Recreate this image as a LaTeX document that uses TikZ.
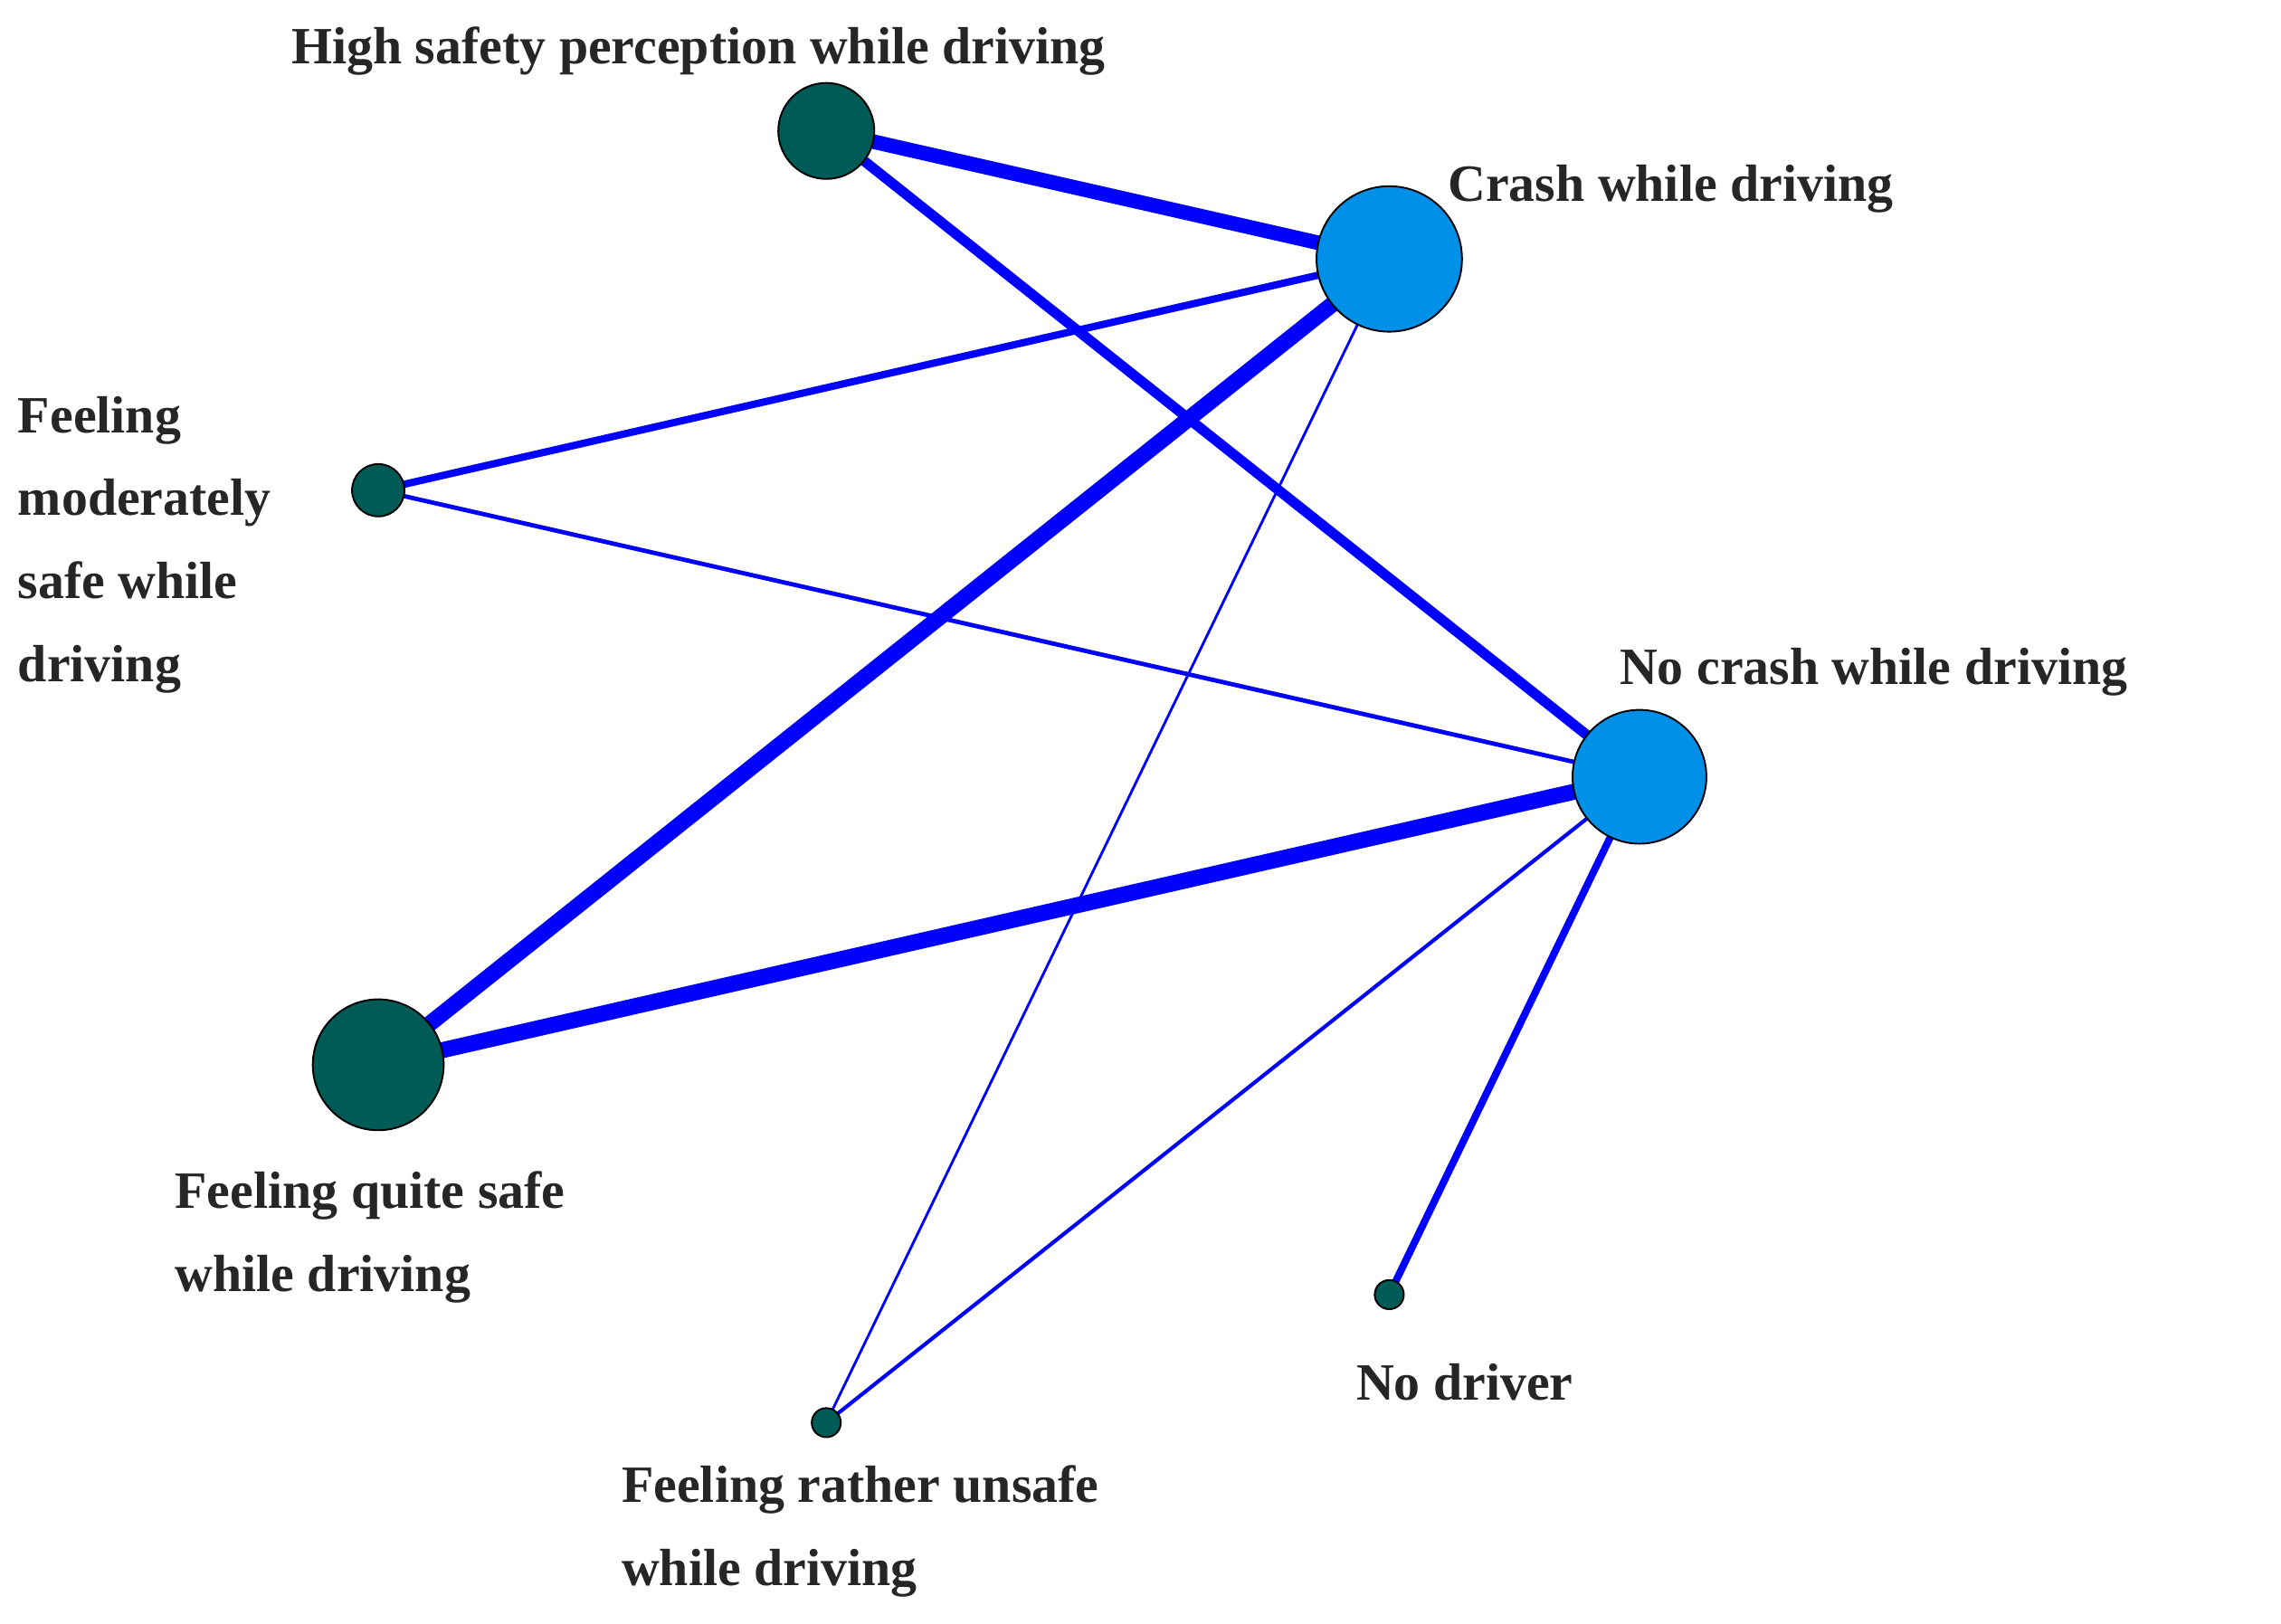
\documentclass[tikz,border=0pt]{standalone}
\usepackage{fontspec}
\setmainfont{Liberation Serif}
\usetikzlibrary{backgrounds}
\definecolor{teal}{HTML}{005A55}
\definecolor{lblue}{HTML}{0090E8}
\definecolor{edge}{HTML}{0000FF}
\begin{document}
\begin{tikzpicture}[x=0.5pt,y=-0.5pt,
  dk/.style={circle,draw=black,line width=0.6pt,fill=teal,inner sep=0pt,minimum size=#1},
  lb/.style={circle,draw=black,line width=0.6pt,fill=lblue,inner sep=0pt,minimum size=#1},
  lab/.style={anchor=west,align=left,font=\fontsize{18}{28.5}\selectfont\bfseries,inner sep=0pt,text=black!85},
  e/.style={draw=edge,line width=#1}]
\useasboundingbox (0,0) rectangle (1568,1116);
\node[dk=33pt] (hs) at (568,90) {};
\node[lb=50pt] (cr) at (955,178) {};
\node[dk=18pt] (md) at (260,337) {};
\node[lb=46pt] (nc) at (1127,534) {};
\node[dk=45pt] (qs) at (260,732) {};
\node[dk=10pt] (nd) at (955,890) {};
\node[dk=10pt] (ru) at (568,978) {};
\begin{scope}[on background layer]
\draw[e=5pt] (hs.center) -- (cr.center);
\draw[e=3.5pt] (hs.center) -- (nc.center);
\draw[e=2.5pt] (md.center) -- (cr.center);
\draw[e=1.5pt] (md.center) -- (nc.center);
\draw[e=5.5pt] (qs.center) -- (cr.center);
\draw[e=5.5pt] (qs.center) -- (nc.center);
\draw[e=0.9pt] (ru.center) -- (cr.center);
\draw[e=1.3pt] (ru.center) -- (nc.center);
\draw[e=2.5pt] (nd.center) -- (nc.center);
\end{scope}
\node[lab] (l1) at (200,35) {High safety perception while driving};
\node[lab] (l2) at (995,130) {Crash while driving};
\node[lab,anchor=north west] (l3) at (12,272) {Feeling\\moderately\\safe while\\driving};
\node[lab] (l4) at (1113,462) {No crash while driving};
\node[lab,anchor=north west] (l5) at (120,805) {Feeling quite safe\\while driving};
\node[lab] (l6) at (932,950) {No driver};
\node[lab,anchor=north west] (l7) at (427,1007) {Feeling rather unsafe\\while driving};
\end{tikzpicture}
\end{document}
